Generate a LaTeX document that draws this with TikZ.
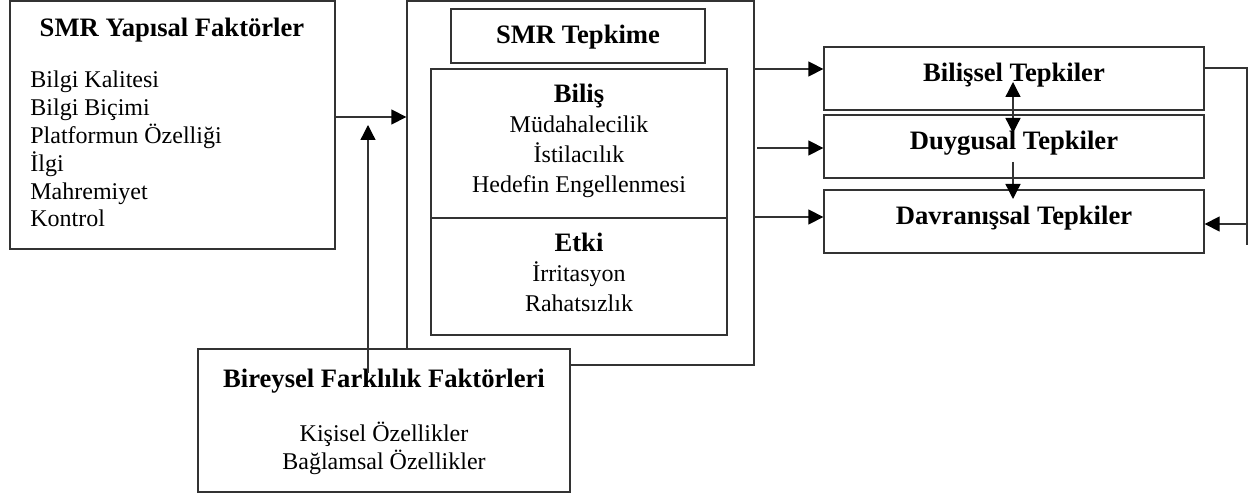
\documentclass[tikz,border=0pt]{standalone}
\usepackage{fontspec}
\setmainfont{Liberation Serif}
\usetikzlibrary{arrows.meta,fit}

\begin{document}
\begin{tikzpicture}[x={(0.5pt,0pt)},y={(0pt,-0.5pt)},
  kutu/.style={draw=black!80,line width=0.65pt,fill=white,inner sep=0pt},
  cizgi/.style={draw=black!80,line width=0.65pt},
  baslik/.style={font=\fontsize{13.3}{15}\selectfont\bfseries,anchor=base,inner sep=0pt},
  madde/.style={font=\fontsize{12}{14}\selectfont,inner sep=0pt},
  ok/.style={cizgi,-{Triangle[length=7.5pt,width=7.5pt,color=black]}},
  cift/.style={cizgi,{Triangle[length=7.5pt,width=7.5pt,color=black]}-{Triangle[length=7.5pt,width=7.5pt,color=black]}}]
\useasboundingbox (0,0) rectangle (1249,497);
\node[kutu,fit={(10,1) (335,249)}] (yapisal) {};
\node[baslik] (t1) at (172,37) {SMR Yapısal Faktörler};
\foreach \m [count=\i] in {Bilgi Kalitesi,Bilgi Biçimi,Platformun Özelliği,İlgi,Mahremiyet,Kontrol}
  \node[madde,anchor=base west] (m\i) at (30,{88+27.8*(\i-1)}) {\m};

\node[kutu,fit={(407,1) (754,365)}] (dis) {};
\node[kutu,fit={(451,9) (705,63)}] (tepkime) {};
\node[baslik] (t2) at (578,44) {SMR Tepkime};
\node[kutu,fit={(431,69) (727,218)}] (bilis) {};
\node[kutu,fit={(431,218) (727,335)}] (etki) {};
\node[baslik] (t3) at (579,103) {Biliş};
\foreach \m [count=\i] in {Müdahalecilik,İstilacılık,Hedefin Engellenmesi}
  \node[madde,anchor=base] (b\i) at (579,{103+30*\i}) {\m};
\node[baslik] (t4) at (579,252) {Etki};
\foreach \m [count=\i] in {İrritasyon,Rahatsızlık}
  \node[madde,anchor=base] (e\i) at (579,{252+30*\i}) {\m};

\node[kutu,fit={(824,47) (1204,110)}] (bilissel) {};
\node[kutu,fit={(824,115) (1204,178)}] (duygusal) {};
\node[kutu,fit={(824,190) (1204,253)}] (davranis) {};
\node[baslik] (t5) at (1014,82) {Bilişsel Tepkiler};
\node[baslik] (t6) at (1014,150) {Duygusal Tepkiler};
\node[baslik] (t7) at (1014,225) {Davranışsal Tepkiler};

\node[kutu,fit={(198,349) (570,492)}] (bireysel) {};
\node[baslik] (t8) at (384,388) {Bireysel Farklılık Faktörleri};
\node[madde,anchor=base] (k1) at (384,442) {Kişisel Özellikler};
\node[madde,anchor=base] (k2) at (384,470) {Bağlamsal Özellikler};

\coordinate (alt) at (368,373);
\coordinate (ust) at (368,125);
\coordinate (orta) at (757,148);
\coordinate (c1) at (1013,82);
\coordinate (c2) at (1013,133);
\coordinate (c3) at (1013,162);
\coordinate (c4) at (1013,199);
\coordinate (sag) at (1247,68);
\coordinate (sagalt) at (1247,245);
\coordinate (geri) at (1247,224);
\draw[ok] (yapisal.east |- 0,117) -- (dis.west |- 0,117);
\draw[ok] (alt) -- (ust);
\draw[ok] (dis.east |- 0,69) -- (bilissel.west |- 0,69);
\draw[ok] (orta) -- (duygusal.west |- orta);
\draw[ok] (dis.east |- 0,217) -- (davranis.west |- 0,217);
\draw[cift] (c1) -- (c2);
\draw[ok] (c3) -- (c4);
\draw[cizgi] (bilissel.east |- sag) -- (sag) -- (sagalt);
\draw[ok] (geri) -- (davranis.east |- geri);
\end{tikzpicture}
\end{document}
